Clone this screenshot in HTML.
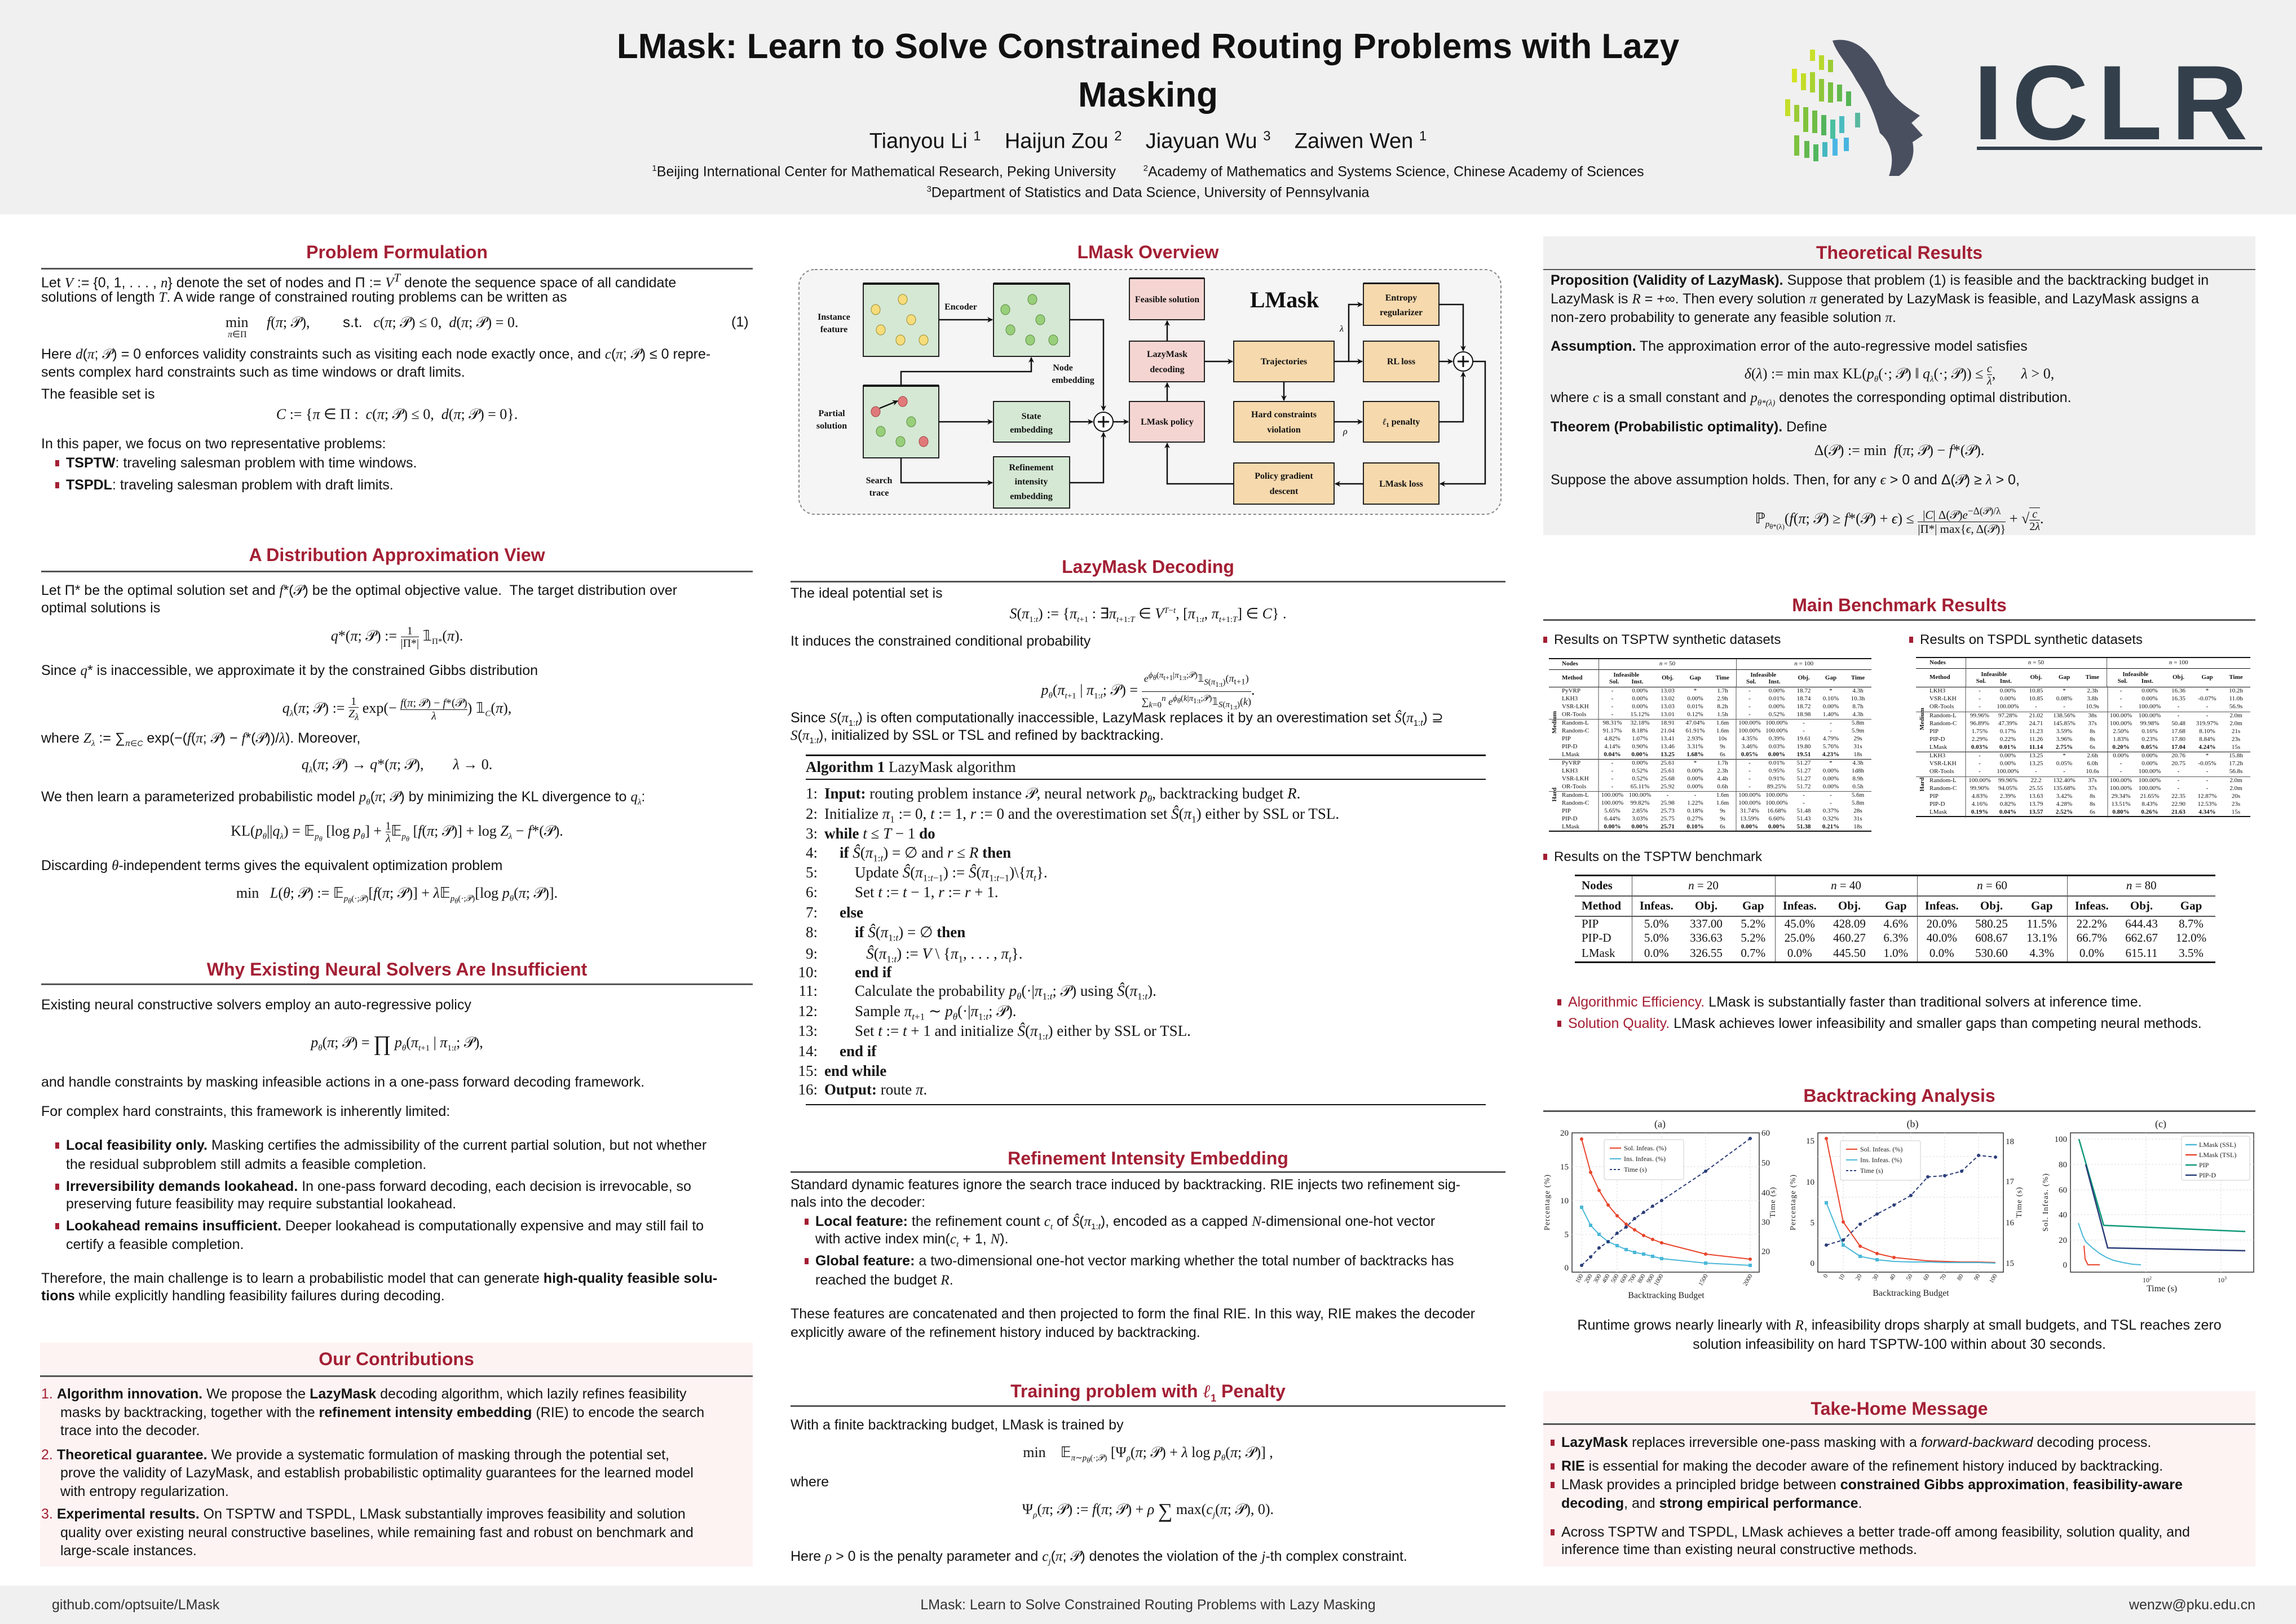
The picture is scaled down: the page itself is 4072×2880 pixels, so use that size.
<!DOCTYPE html>
<html><head><meta charset="utf-8"><style>
*{margin:0;padding:0;box-sizing:border-box}
body{width:4072px;height:2880px;position:relative;overflow:hidden;background:#fff;font-family:"Liberation Sans",sans-serif;color:#141414}
.a{position:absolute}
.t{position:absolute;white-space:nowrap;font-size:25px;line-height:32px}
.m{font-family:"Liberation Serif",serif;font-style:italic}
.r{font-family:"Liberation Serif",serif}
.h{position:absolute;text-align:center;font-size:32px;font-weight:bold;color:#a31f34;line-height:40px;white-space:nowrap}
.rule{position:absolute;height:3px;background:#555}
.sq{display:inline-block;width:7px;height:11px;background:#a31f34;margin-right:12px;vertical-align:2px}
.f{position:absolute;white-space:nowrap;font-family:"Liberation Serif",serif;font-size:26px;line-height:32px;text-align:center}
.alg{position:absolute;white-space:nowrap;font-family:"Liberation Serif",serif;font-size:27px;line-height:30px}
.alg b{font-weight:bold}
.ln{display:inline-block;width:50px;text-align:right;margin-right:12px}
table.d{position:absolute;border-collapse:collapse;table-layout:fixed;font-family:"Liberation Serif",serif;font-size:11px;color:#111}
table.d td{text-align:center;padding:0;white-space:nowrap;overflow:visible;line-height:11px}
table.d td.l{text-align:left}
table.b{position:absolute;border-collapse:collapse;table-layout:fixed;font-family:"Liberation Serif",serif;font-size:21px;color:#111}
table.b td{text-align:center;padding:0;white-space:nowrap}
</style></head><body>

<!-- header -->
<div class="a" style="left:0;top:0;width:4072px;height:380px;background:#f0f0f0"></div>
<div class="a" style="left:0;top:2812px;width:4072px;height:68px;background:#f0f0f0"></div>
<div class="a" style="left:700px;top:40px;width:2672px;text-align:center;font-size:62px;font-weight:bold;line-height:86px;color:#111">LMask: Learn to Solve Constrained Routing Problems with Lazy<br>Masking</div>
<div class="a" style="left:700px;top:218px;width:2672px;text-align:center;font-size:38px;line-height:48px">Tianyou Li <sup style="font-size:24px">1</sup>&nbsp;&nbsp;&nbsp; Haijun Zou <sup style="font-size:24px">2</sup>&nbsp;&nbsp;&nbsp; Jiayuan Wu <sup style="font-size:24px">3</sup>&nbsp;&nbsp;&nbsp; Zaiwen Wen <sup style="font-size:24px">1</sup></div>
<div class="a" style="left:700px;top:283px;width:2672px;text-align:center;font-size:25px;line-height:32px"><sup style="font-size:15px">1</sup>Beijing International Center for Mathematical Research, Peking University&nbsp;&nbsp;&nbsp;&nbsp;&nbsp;&nbsp; <sup style="font-size:15px">2</sup>Academy of Mathematics and Systems Science, Chinese Academy of Sciences<br><sup style="font-size:15px">3</sup>Department of Statistics and Data Science, University of Pennsylvania</div>
<div class="a" style="left:3500px;top:92px;font-size:188px;font-weight:bold;color:#333f4b;letter-spacing:16px;line-height:180px">ICLR</div>
<div class="a" style="left:3506px;top:260px;width:506px;height:6px;background:#333f4b"></div>

<!-- backgrounds -->
<div class="a" style="left:2737px;top:419px;width:1263px;height:530px;background:#f0f0f0"></div>
<div class="a" style="left:71px;top:2381px;width:1264px;height:397px;background:#fdf3f2"></div>
<div class="a" style="left:2737px;top:2467px;width:1263px;height:311px;background:#fdf3f2"></div>

<!-- COLUMN 1 -->
<div class="h" style="left:73px;top:427px;width:1262px">Problem Formulation</div>
<div class="rule" style="left:73px;top:475px;width:1262px"></div>
<div class="t" style="left:73px;top:477px">Let <span class="m">V</span> := {0, 1, . . . , <span class="m">n</span>} denote the set of nodes and Π := <span class="m">V<sup>T</sup></span> denote the sequence space of all candidate</div>
<div class="t" style="left:73px;top:511px">solutions of length <span class="m">T</span>. A wide range of constrained routing problems can be written as</div>
<div class="f" style="left:400px;top:555px;text-align:left">min&nbsp;&nbsp;&nbsp;&nbsp; <i>f</i>(<i>π</i>; 𝒫),&nbsp;&nbsp;&nbsp;&nbsp;&nbsp;&nbsp;&nbsp;&nbsp; <span style="font-family:'Liberation Sans'">s.t.</span>&nbsp;&nbsp; <i>c</i>(<i>π</i>; 𝒫) ≤ 0,&nbsp; <i>d</i>(<i>π</i>; 𝒫) = 0.</div>
<div class="f" style="left:404px;top:578px;font-size:16px"><i>π</i>∈Π</div>
<div class="t" style="left:1297px;top:555px">(1)</div>
<div class="t" style="left:73px;top:612px">Here <span class="m">d</span>(<span class="m">π</span>; 𝒫) = 0 enforces validity constraints such as visiting each node exactly once, and <span class="m">c</span>(<span class="m">π</span>; 𝒫) ≤ 0 repre-</div>
<div class="t" style="left:73px;top:644px">sents complex hard constraints such as time windows or draft limits.</div>
<div class="t" style="left:73px;top:683px">The feasible set is</div>
<div class="f" style="left:73px;width:1262px;top:719px"><i>C</i> := {<i>π</i> ∈ Π :&nbsp; <i>c</i>(<i>π</i>; 𝒫) ≤ 0,&nbsp; <i>d</i>(<i>π</i>; 𝒫) = 0}.</div>
<div class="t" style="left:73px;top:771px">In this paper, we focus on two representative problems:</div>
<div class="t" style="left:98px;top:805px"><span class="sq"></span><b>TSPTW</b>: traveling salesman problem with time windows.</div>
<div class="t" style="left:98px;top:844px"><span class="sq"></span><b>TSPDL</b>: traveling salesman problem with draft limits.</div>

<div class="h" style="left:73px;top:964px;width:1262px">A Distribution Approximation View</div>
<div class="rule" style="left:73px;top:1012px;width:1262px"></div>
<div class="t" style="left:73px;top:1031px">Let Π* be the optimal solution set and <span class="m">f</span>*(𝒫) be the optimal objective value.&nbsp; The target distribution over</div>
<div class="t" style="left:73px;top:1062px">optimal solutions is</div>
<div class="f" style="left:73px;width:1262px;top:1108px"><i>q</i>*(<i>π</i>; 𝒫) := <span style="display:inline-block;vertical-align:middle;text-align:center;font-size:20px;line-height:22px">1<br><span style="border-top:1.5px solid #111">|Π*|</span></span> 𝟙<sub style="font-size:15px">Π*</sub>(<i>π</i>).</div>
<div class="t" style="left:73px;top:1173px">Since <span class="m">q</span>* is inaccessible, we approximate it by the constrained Gibbs distribution</div>
<div class="f" style="left:73px;width:1262px;top:1233px"><i>q<sub style="font-size:15px">λ</sub></i>(<i>π</i>; 𝒫) := <span style="display:inline-block;vertical-align:middle;font-size:20px;line-height:22px">1<br><span style="border-top:1.5px solid #111"><i>Z<sub>λ</sub></i></span></span> exp(− <span style="display:inline-block;vertical-align:middle;font-size:20px;line-height:22px"><i>f</i>(<i>π</i>; 𝒫) − <i>f</i>*(𝒫)<br><span style="border-top:1.5px solid #111;display:block"><i>λ</i></span></span>) 𝟙<sub style="font-size:15px"><i>C</i></sub>(<i>π</i>),</div>
<div class="t" style="left:73px;top:1293px">where <span class="m">Z<sub style="font-size:15px">λ</sub></span> := ∑<sub style="font-size:14px"><i>π</i>∈<i>C</i></sub> exp(−(<span class="m">f</span>(<span class="m">π</span>; 𝒫) − <span class="m">f</span>*(𝒫))/<span class="m">λ</span>). Moreover,</div>
<div class="f" style="left:73px;width:1262px;top:1340px"><i>q<sub style="font-size:15px">λ</sub></i>(<i>π</i>; 𝒫) → <i>q</i>*(<i>π</i>; 𝒫),&nbsp;&nbsp;&nbsp;&nbsp;&nbsp;&nbsp;&nbsp; <i>λ</i> → 0.</div>
<div class="t" style="left:73px;top:1397px">We then learn a parameterized probabilistic model <span class="m">p<sub style="font-size:15px">θ</sub></span>(<span class="m">π</span>; 𝒫) by minimizing the KL divergence to <span class="m">q<sub style="font-size:15px">λ</sub></span>:</div>
<div class="f" style="left:73px;width:1262px;top:1454px">KL(<i>p<sub style="font-size:15px">θ</sub></i>||<i>q<sub style="font-size:15px">λ</sub></i>) = 𝔼<sub style="font-size:15px"><i>p<sub>θ</sub></i></sub> [log <i>p<sub style="font-size:15px">θ</sub></i>] + <span style="display:inline-block;vertical-align:middle;font-size:20px;line-height:22px">1<br><span style="border-top:1.5px solid #111"><i>λ</i></span></span>𝔼<sub style="font-size:15px"><i>p<sub>θ</sub></i></sub> [<i>f</i>(<i>π</i>; 𝒫)] + log <i>Z<sub style="font-size:15px">λ</sub></i> − <i>f</i>*(𝒫).</div>
<div class="t" style="left:73px;top:1519px">Discarding <span class="m">θ</span>-independent terms gives the equivalent optimization problem</div>
<div class="f" style="left:73px;width:1262px;top:1568px">min&nbsp;&nbsp; <i>L</i>(<i>θ</i>; 𝒫) := 𝔼<sub style="font-size:15px"><i>p<sub>θ</sub></i>(·;𝒫)</sub>[<i>f</i>(<i>π</i>; 𝒫)] + <i>λ</i>𝔼<sub style="font-size:15px"><i>p<sub>θ</sub></i>(·;𝒫)</sub>[log <i>p<sub style="font-size:15px">θ</sub></i>(<i>π</i>; 𝒫)].</div>

<div class="h" style="left:73px;top:1699px;width:1262px">Why Existing Neural Solvers Are Insufficient</div>
<div class="rule" style="left:73px;top:1744px;width:1262px"></div>
<div class="t" style="left:73px;top:1766px">Existing neural constructive solvers employ an auto-regressive policy</div>
<div class="f" style="left:73px;width:1262px;top:1833px"><i>p<sub style="font-size:15px">θ</sub></i>(<i>π</i>; 𝒫) = <span style="font-size:38px;vertical-align:-6px">∏</span> <i>p<sub style="font-size:15px">θ</sub></i>(<i>π</i><sub style="font-size:15px"><i>t</i>+1</sub> | <i>π</i><sub style="font-size:15px">1:<i>t</i></sub>; 𝒫),</div>
<div class="t" style="left:73px;top:1903px">and handle constraints by masking infeasible actions in a one-pass forward decoding framework.</div>
<div class="t" style="left:73px;top:1955px">For complex hard constraints, this framework is inherently limited:</div>
<div class="t" style="left:98px;top:2015px"><span class="sq"></span><b>Local feasibility only.</b> Masking certifies the admissibility of the current partial solution, but not whether</div>
<div class="t" style="left:117px;top:2049px">the residual subproblem still admits a feasible completion.</div>
<div class="t" style="left:98px;top:2088px"><span class="sq"></span><b>Irreversibility demands lookahead.</b> In one-pass forward decoding, each decision is irrevocable, so</div>
<div class="t" style="left:117px;top:2119px">preserving future feasibility may require substantial lookahead.</div>
<div class="t" style="left:98px;top:2158px"><span class="sq"></span><b>Lookahead remains insufficient.</b> Deeper lookahead is computationally expensive and may still fail to</div>
<div class="t" style="left:117px;top:2191px">certify a feasible completion.</div>
<div class="t" style="left:73px;top:2251px">Therefore, the main challenge is to learn a probabilistic model that can generate <b>high-quality feasible solu-</b></div>
<div class="t" style="left:73px;top:2282px"><b>tions</b> while explicitly handling feasibility failures during decoding.</div>

<div class="h" style="left:71px;top:2390px;width:1264px">Our Contributions</div>
<div class="rule" style="left:71px;top:2439px;width:1264px"></div>
<div class="t" style="left:73px;top:2456px"><span style="color:#a31f34">1.</span> <b>Algorithm innovation.</b> We propose the <b>LazyMask</b> decoding algorithm, which lazily refines feasibility</div>
<div class="t" style="left:107px;top:2489px">masks by backtracking, together with the <b>refinement intensity embedding</b> (RIE) to encode the search</div>
<div class="t" style="left:107px;top:2521px">trace into the decoder.</div>
<div class="t" style="left:73px;top:2564px"><span style="color:#a31f34">2.</span> <b>Theoretical guarantee.</b> We provide a systematic formulation of masking through the potential set,</div>
<div class="t" style="left:107px;top:2596px">prove the validity of LazyMask, and establish probabilistic optimality guarantees for the learned model</div>
<div class="t" style="left:107px;top:2629px">with entropy regularization.</div>
<div class="t" style="left:73px;top:2669px"><span style="color:#a31f34">3.</span> <b>Experimental results.</b> On TSPTW and TSPDL, LMask substantially improves feasibility and solution</div>
<div class="t" style="left:107px;top:2702px">quality over existing neural constructive baselines, while remaining fast and robust on benchmark and</div>
<div class="t" style="left:107px;top:2734px">large-scale instances.</div>

<!-- COLUMN 2 -->
<div class="h" style="left:1402px;top:427px;width:1268px">LMask Overview</div>
<div class="h" style="left:1402px;top:985px;width:1268px">LazyMask Decoding</div>
<div class="rule" style="left:1402px;top:1030px;width:1268px"></div>
<div class="t" style="left:1402px;top:1036px">The ideal potential set is</div>
<div class="f" style="left:1402px;width:1268px;top:1067px"><i>S</i>(<i>π</i><sub style="font-size:15px">1:<i>t</i></sub>) := {<i>π</i><sub style="font-size:15px"><i>t</i>+1</sub> : ∃<i>π</i><sub style="font-size:15px"><i>t</i>+1:<i>T</i></sub> ∈ <i>V</i><sup style="font-size:15px"><i>T</i>−<i>t</i></sup>, [<i>π</i><sub style="font-size:15px">1:<i>t</i></sub>, <i>π</i><sub style="font-size:15px"><i>t</i>+1:<i>T</i></sub>] ∈ <i>C</i>} .</div>
<div class="t" style="left:1402px;top:1121px">It induces the constrained conditional probability</div>
<div class="f" style="left:1402px;width:1268px;top:1186px"><i>p<sub style="font-size:15px">θ</sub></i>(<i>π</i><sub style="font-size:15px"><i>t</i>+1</sub> | <i>π</i><sub style="font-size:15px">1:<i>t</i></sub>; 𝒫) = <span style="display:inline-block;vertical-align:middle;font-size:18px;line-height:24px;text-align:center"><i>e</i><sup><i>ϕ<sub>θ</sub></i>(<i>π</i><sub>t+1</sub>|<i>π</i><sub>1:t</sub>;𝒫)</sup>𝟙<sub><i>S</i>(<i>π</i><sub>1:t</sub>)</sub>(<i>π</i><sub>t+1</sub>)<br><span style="border-top:1.5px solid #111;display:block">∑<sub><i>k</i>=0</sub><sup><i>n</i></sup> <i>e</i><sup><i>ϕ<sub>θ</sub></i>(<i>k</i>|<i>π</i><sub>1:t</sub>;𝒫)</sup>𝟙<sub><i>S</i>(<i>π</i><sub>1:t</sub>)</sub>(<i>k</i>)</span></span>.</div>
<div class="t" style="left:1402px;top:1257px">Since <span class="m">S</span>(<span class="m">π</span><sub style="font-size:15px">1:<i>t</i></sub>) is often computationally inaccessible, LazyMask replaces it by an overestimation set <span class="m">Ŝ</span>(<span class="m">π</span><sub style="font-size:15px">1:<i>t</i></sub>) ⊇</div>
<div class="t" style="left:1402px;top:1288px"><span class="m">S</span>(<span class="m">π</span><sub style="font-size:15px">1:<i>t</i></sub>), initialized by SSL or TSL and refined by backtracking.</div>

<div class="a" style="left:1429px;top:1338px;width:1206px;height:3px;background:#111"></div>
<div class="alg" style="left:1429px;top:1345px"><b>Algorithm 1</b> LazyMask algorithm</div>
<div class="a" style="left:1429px;top:1381px;width:1206px;height:2px;background:#111"></div>
<div class="alg" style="left:1400px;top:1392px"><span class="ln">1:</span><b>Input:</b> routing problem instance 𝒫, neural network <i>p<sub style="font-size:17px">θ</sub></i>, backtracking budget <i>R</i>.</div>
<div class="alg" style="left:1400px;top:1428px"><span class="ln">2:</span>Initialize <i>π</i><sub style="font-size:17px">1</sub> := 0, <i>t</i> := 1, <i>r</i> := 0 and the overestimation set <i>Ŝ</i>(<i>π</i><sub style="font-size:17px">1</sub>) either by SSL or TSL.</div>
<div class="alg" style="left:1400px;top:1463px"><span class="ln">3:</span><b>while</b> <i>t</i> ≤ <i>T</i> − 1 <b>do</b></div>
<div class="alg" style="left:1400px;top:1497px"><span class="ln">4:</span>&nbsp;&nbsp;&nbsp; <b>if</b> <i>Ŝ</i>(<i>π</i><sub style="font-size:17px">1:<i>t</i></sub>) = ∅ and <i>r</i> ≤ <i>R</i> <b>then</b></div>
<div class="alg" style="left:1400px;top:1532px"><span class="ln">5:</span>&nbsp;&nbsp;&nbsp;&nbsp;&nbsp;&nbsp;&nbsp; Update <i>Ŝ</i>(<i>π</i><sub style="font-size:17px">1:<i>t</i>−1</sub>) := <i>Ŝ</i>(<i>π</i><sub style="font-size:17px">1:<i>t</i>−1</sub>)\{<i>π<sub style="font-size:17px">t</sub></i>}.</div>
<div class="alg" style="left:1400px;top:1567px"><span class="ln">6:</span>&nbsp;&nbsp;&nbsp;&nbsp;&nbsp;&nbsp;&nbsp; Set <i>t</i> := <i>t</i> − 1, <i>r</i> := <i>r</i> + 1.</div>
<div class="alg" style="left:1400px;top:1603px"><span class="ln">7:</span>&nbsp;&nbsp;&nbsp; <b>else</b></div>
<div class="alg" style="left:1400px;top:1638px"><span class="ln">8:</span>&nbsp;&nbsp;&nbsp;&nbsp;&nbsp;&nbsp;&nbsp; <b>if</b> <i>Ŝ</i>(<i>π</i><sub style="font-size:17px">1:<i>t</i></sub>) = ∅ <b>then</b></div>
<div class="alg" style="left:1400px;top:1676px"><span class="ln">9:</span>&nbsp;&nbsp;&nbsp;&nbsp;&nbsp;&nbsp;&nbsp;&nbsp;&nbsp;&nbsp; <i>Ŝ</i>(<i>π</i><sub style="font-size:17px">1:<i>t</i></sub>) := <i>V</i> \ {<i>π</i><sub style="font-size:17px">1</sub>, . . . , <i>π<sub style="font-size:17px">t</sub></i>}.</div>
<div class="alg" style="left:1400px;top:1709px"><span class="ln">10:</span>&nbsp;&nbsp;&nbsp;&nbsp;&nbsp;&nbsp;&nbsp; <b>end if</b></div>
<div class="alg" style="left:1400px;top:1742px"><span class="ln">11:</span>&nbsp;&nbsp;&nbsp;&nbsp;&nbsp;&nbsp;&nbsp; Calculate the probability <i>p<sub style="font-size:17px">θ</sub></i>(·|<i>π</i><sub style="font-size:17px">1:<i>t</i></sub>; 𝒫) using <i>Ŝ</i>(<i>π</i><sub style="font-size:17px">1:<i>t</i></sub>).</div>
<div class="alg" style="left:1400px;top:1778px"><span class="ln">12:</span>&nbsp;&nbsp;&nbsp;&nbsp;&nbsp;&nbsp;&nbsp; Sample <i>π</i><sub style="font-size:17px"><i>t</i>+1</sub> ∼ <i>p<sub style="font-size:17px">θ</sub></i>(·|<i>π</i><sub style="font-size:17px">1:<i>t</i></sub>; 𝒫).</div>
<div class="alg" style="left:1400px;top:1813px"><span class="ln">13:</span>&nbsp;&nbsp;&nbsp;&nbsp;&nbsp;&nbsp;&nbsp; Set <i>t</i> := <i>t</i> + 1 and initialize <i>Ŝ</i>(<i>π</i><sub style="font-size:17px">1:<i>t</i></sub>) either by SSL or TSL.</div>
<div class="alg" style="left:1400px;top:1849px"><span class="ln">14:</span>&nbsp;&nbsp;&nbsp; <b>end if</b></div>
<div class="alg" style="left:1400px;top:1884px"><span class="ln">15:</span><b>end while</b></div>
<div class="alg" style="left:1400px;top:1917px"><span class="ln">16:</span><b>Output:</b> route <i>π</i>.</div>
<div class="a" style="left:1429px;top:1958px;width:1206px;height:2px;background:#111"></div>

<div class="h" style="left:1402px;top:2034px;width:1268px">Refinement Intensity Embedding</div>
<div class="rule" style="left:1402px;top:2077px;width:1268px"></div>
<div class="t" style="left:1402px;top:2085px">Standard dynamic features ignore the search trace induced by backtracking. RIE injects two refinement sig-</div>
<div class="t" style="left:1402px;top:2116px">nals into the decoder:</div>
<div class="t" style="left:1427px;top:2150px"><span class="sq"></span><b>Local feature:</b> the refinement count <span class="m">c<sub style="font-size:15px">t</sub></span> of <span class="m">Ŝ</span>(<span class="m">π</span><sub style="font-size:15px">1:<i>t</i></sub>), encoded as a capped <span class="m">N</span>-dimensional one-hot vector</div>
<div class="t" style="left:1446px;top:2181px">with active index min(<span class="m">c<sub style="font-size:15px">t</sub></span> + 1, <span class="m">N</span>).</div>
<div class="t" style="left:1427px;top:2220px"><span class="sq"></span><b>Global feature:</b> a two-dimensional one-hot vector marking whether the total number of backtracks has</div>
<div class="t" style="left:1446px;top:2254px">reached the budget <span class="m">R</span>.</div>
<div class="t" style="left:1402px;top:2314px">These features are concatenated and then projected to form the final RIE. In this way, RIE makes the decoder</div>
<div class="t" style="left:1402px;top:2347px">explicitly aware of the refinement history induced by backtracking.</div>

<div class="h" style="left:1402px;top:2447px;width:1268px">Training problem with <i style="font-family:'Liberation Serif'">ℓ</i><sub style="font-size:18px">1</sub> Penalty</div>
<div class="rule" style="left:1402px;top:2492px;width:1268px"></div>
<div class="t" style="left:1402px;top:2511px">With a finite backtracking budget, LMask is trained by</div>
<div class="f" style="left:1402px;width:1268px;top:2560px">min&nbsp;&nbsp;&nbsp; 𝔼<sub style="font-size:15px"><i>π</i>∼<i>p<sub>θ</sub></i>(·;𝒫)</sub> [Ψ<sub style="font-size:15px"><i>ρ</i></sub>(<i>π</i>; 𝒫) + <i>λ</i> log <i>p<sub style="font-size:15px">θ</sub></i>(<i>π</i>; 𝒫)] ,</div>
<div class="t" style="left:1402px;top:2612px">where</div>
<div class="f" style="left:1402px;width:1268px;top:2661px">Ψ<sub style="font-size:15px"><i>ρ</i></sub>(<i>π</i>; 𝒫) := <i>f</i>(<i>π</i>; 𝒫) + <i>ρ</i> <span style="font-size:36px;vertical-align:-6px">∑</span> max(<i>c<sub style="font-size:15px">j</sub></i>(<i>π</i>; 𝒫), 0).</div>
<div class="t" style="left:1402px;top:2744px">Here <span class="m">ρ</span> &gt; 0 is the penalty parameter and <span class="m">c<sub style="font-size:15px">j</sub></span>(<span class="m">π</span>; 𝒫) denotes the violation of the <span class="m">j</span>-th complex constraint.</div>

<!-- COLUMN 3 -->
<div class="h" style="left:2737px;top:428px;width:1263px">Theoretical Results</div>
<div class="rule" style="left:2737px;top:477px;width:1263px;height:2px"></div>
<div class="t" style="left:2750px;top:481px"><b>Proposition (Validity of LazyMask).</b> Suppose that problem (1) is feasible and the backtracking budget in</div>
<div class="t" style="left:2750px;top:514px">LazyMask is <span class="m">R</span> = +∞. Then every solution <span class="m">π</span> generated by LazyMask is feasible, and LazyMask assigns a</div>
<div class="t" style="left:2750px;top:547px">non-zero probability to generate any feasible solution <span class="m">π</span>.</div>
<div class="t" style="left:2750px;top:598px"><b>Assumption.</b> The approximation error of the auto-regressive model satisfies</div>
<div class="f" style="left:2737px;width:1263px;top:643px"><i>δ</i>(<i>λ</i>) := min max KL(<i>p<sub style="font-size:15px">θ</sub></i>(·; 𝒫) ‖ <i>q<sub style="font-size:15px">λ</sub></i>(·; 𝒫)) ≤ <span style="display:inline-block;vertical-align:middle;font-size:20px;line-height:22px"><i>c</i><br><span style="border-top:1.5px solid #111"><i>λ</i></span></span>,&nbsp;&nbsp;&nbsp;&nbsp;&nbsp;&nbsp; <i>λ</i> &gt; 0,</div>
<div class="t" style="left:2750px;top:689px">where <span class="m">c</span> is a small constant and <span class="m">p<sub style="font-size:15px">θ*(λ)</sub></span> denotes the corresponding optimal distribution.</div>
<div class="t" style="left:2750px;top:741px"><b>Theorem (Probabilistic optimality).</b> Define</div>
<div class="f" style="left:2737px;width:1263px;top:783px">Δ(𝒫) := min&nbsp; <i>f</i>(<i>π</i>; 𝒫) − <i>f</i>*(𝒫).</div>
<div class="t" style="left:2750px;top:835px">Suppose the above assumption holds. Then, for any <span class="m">ϵ</span> &gt; 0 and Δ(𝒫) ≥ <span class="m">λ</span> &gt; 0,</div>
<div class="f" style="left:2737px;width:1263px;top:894px">ℙ<sub style="font-size:15px"><i>p</i><sub>θ*(λ)</sub></sub>(<i>f</i>(<i>π</i>; 𝒫) ≥ <i>f</i>*(𝒫) + <i>ϵ</i>) ≤ <span style="display:inline-block;vertical-align:middle;font-size:21px;line-height:24px">|<i>C</i>| Δ(𝒫)<i>e</i><sup>−Δ(𝒫)/λ</sup><br><span style="border-top:1.5px solid #111;display:block">|Π*| max{<i>ϵ</i>, Δ(𝒫)}</span></span> + √<span style="border-top:1.5px solid #111;display:inline-block;vertical-align:middle;font-size:20px;line-height:22px"><i>c</i><br><span style="border-top:1.5px solid #111">2<i>λ</i></span></span>.</div>

<div class="h" style="left:2737px;top:1053px;width:1263px">Main Benchmark Results</div>
<div class="rule" style="left:2737px;top:1098px;width:1263px"></div>
<div class="t" style="left:2737px;top:1119px;font-size:24px"><span class="sq"></span>Results on TSPTW synthetic datasets</div>
<div class="t" style="left:3386px;top:1119px;font-size:24px"><span class="sq"></span>Results on TSPDL synthetic datasets</div>

<!-- TSPTW synthetic table -->
<table class="d" style="left:2747px;top:1167px;width:570px">
<colgroup><col style="width:23px"><col style="width:65px"><col style="width:49px"><col style="width:49px"><col style="width:49px"><col style="width:49px"><col style="width:48px"><col style="width:48px"><col style="width:48px"><col style="width:48px"><col style="width:48px"><col style="width:48px"></colgroup>
<tr style="height:19px;border-top:2px solid #111;border-bottom:1.5px solid #111"><td></td><td class="l" style="font-weight:bold;border-right:1px solid #555">Nodes</td><td colspan="5" style="border-right:1px solid #555"><i>n</i> = 50</td><td colspan="5"><i>n</i> = 100</td></tr>
<tr style="height:31px;border-bottom:1.5px solid #111;font-weight:bold"><td></td><td class="l" style="border-right:1px solid #555">Method</td><td colspan="2" style="line-height:12px">Infeasible<br>Sol.&nbsp;&nbsp;&nbsp;&nbsp;&nbsp;&nbsp;&nbsp; Inst.</td><td>Obj.</td><td>Gap</td><td style="border-right:1px solid #555">Time</td><td colspan="2" style="line-height:12px">Infeasible<br>Sol.&nbsp;&nbsp;&nbsp;&nbsp;&nbsp;&nbsp;&nbsp; Inst.</td><td>Obj.</td><td>Gap</td><td>Time</td></tr>
<tr style="height:14px"><td></td><td class="l">PyVRP</td><td>-</td><td>0.00%</td><td>13.03</td><td>*</td><td>1.7h</td><td>-</td><td>0.00%</td><td>18.72</td><td>*</td><td>4.3h</td></tr>
<tr style="height:14px"><td></td><td class="l">LKH3</td><td>-</td><td>0.00%</td><td>13.02</td><td>0.00%</td><td>2.9h</td><td>-</td><td>0.01%</td><td>18.74</td><td>0.16%</td><td>10.3h</td></tr>
<tr style="height:14px"><td></td><td class="l">VSR-LKH</td><td>-</td><td>0.00%</td><td>13.03</td><td>0.01%</td><td>8.2h</td><td>-</td><td>0.00%</td><td>18.72</td><td>0.00%</td><td>8.7h</td></tr>
<tr style="height:15px;border-bottom:1px solid #555"><td></td><td class="l">OR-Tools</td><td>-</td><td>15.12%</td><td>13.01</td><td>0.12%</td><td>1.5h</td><td>-</td><td>0.52%</td><td>18.98</td><td>1.40%</td><td>4.3h</td></tr>
<tr style="height:14px"><td></td><td class="l">Random-L</td><td>98.31%</td><td>32.18%</td><td>18.91</td><td>47.04%</td><td>1.6m</td><td>100.00%</td><td>100.00%</td><td>-</td><td>-</td><td>5.8m</td></tr>
<tr style="height:14px"><td></td><td class="l">Random-C</td><td>91.17%</td><td>8.18%</td><td>21.04</td><td>61.91%</td><td>1.6m</td><td>100.00%</td><td>100.00%</td><td>-</td><td>-</td><td>5.9m</td></tr>
<tr style="height:14px"><td></td><td class="l">PIP</td><td>4.82%</td><td>1.07%</td><td>13.41</td><td>2.93%</td><td>10s</td><td>4.35%</td><td>0.39%</td><td>19.61</td><td>4.79%</td><td>29s</td></tr>
<tr style="height:14px"><td></td><td class="l">PIP-D</td><td>4.14%</td><td>0.90%</td><td>13.46</td><td>3.31%</td><td>9s</td><td>3.46%</td><td>0.03%</td><td>19.80</td><td>5.76%</td><td>31s</td></tr>
<tr style="height:15px;border-bottom:1.5px solid #111;font-weight:bold"><td></td><td class="l" style="font-weight:normal">LMask</td><td>0.04%</td><td>0.00%</td><td>13.25</td><td>1.68%</td><td style="font-weight:normal">6s</td><td>0.05%</td><td>0.00%</td><td>19.51</td><td>4.23%</td><td style="font-weight:normal">18s</td></tr>
<tr style="height:14px"><td></td><td class="l">PyVRP</td><td>-</td><td>0.00%</td><td>25.61</td><td>*</td><td>1.7h</td><td>-</td><td>0.01%</td><td>51.27</td><td>*</td><td>4.3h</td></tr>
<tr style="height:14px"><td></td><td class="l">LKH3</td><td>-</td><td>0.52%</td><td>25.61</td><td>0.00%</td><td>2.3h</td><td>-</td><td>0.95%</td><td>51.27</td><td>0.00%</td><td>1d8h</td></tr>
<tr style="height:14px"><td></td><td class="l">VSR-LKH</td><td>-</td><td>0.52%</td><td>25.68</td><td>0.00%</td><td>4.4h</td><td>-</td><td>0.91%</td><td>51.27</td><td>0.00%</td><td>8.9h</td></tr>
<tr style="height:15px;border-bottom:1px solid #555"><td></td><td class="l">OR-Tools</td><td>-</td><td>65.11%</td><td>25.92</td><td>0.00%</td><td>0.6h</td><td>-</td><td>89.25%</td><td>51.72</td><td>0.00%</td><td>0.5h</td></tr>
<tr style="height:14px"><td></td><td class="l">Random-L</td><td>100.00%</td><td>100.00%</td><td>-</td><td>-</td><td>1.6m</td><td>100.00%</td><td>100.00%</td><td>-</td><td>-</td><td>5.6m</td></tr>
<tr style="height:14px"><td></td><td class="l">Random-C</td><td>100.00%</td><td>99.82%</td><td>25.98</td><td>1.22%</td><td>1.6m</td><td>100.00%</td><td>100.00%</td><td>-</td><td>-</td><td>5.8m</td></tr>
<tr style="height:14px"><td></td><td class="l">PIP</td><td>5.65%</td><td>2.85%</td><td>25.73</td><td>0.18%</td><td>9s</td><td>31.74%</td><td>16.68%</td><td>51.48</td><td>0.37%</td><td>28s</td></tr>
<tr style="height:14px"><td></td><td class="l">PIP-D</td><td>6.44%</td><td>3.03%</td><td>25.75</td><td>0.27%</td><td>9s</td><td>13.59%</td><td>6.60%</td><td>51.43</td><td>0.32%</td><td>31s</td></tr>
<tr style="height:15px;border-bottom:2px solid #111;font-weight:bold"><td></td><td class="l" style="font-weight:normal">LMask</td><td>0.00%</td><td>0.00%</td><td>25.71</td><td>0.10%</td><td style="font-weight:normal">6s</td><td>0.00%</td><td>0.00%</td><td>51.38</td><td>0.21%</td><td style="font-weight:normal">18s</td></tr>
</table>

<!-- TSPDL synthetic table -->
<table class="d" style="left:3398px;top:1165px;width:592px">
<colgroup><col style="width:24px"><col style="width:64px"><col style="width:50px"><col style="width:50px"><col style="width:50px"><col style="width:50px"><col style="width:50px"><col style="width:51px"><col style="width:51px"><col style="width:51px"><col style="width:51px"><col style="width:51px"></colgroup>
<tr style="height:19px;border-top:2px solid #111;border-bottom:1.5px solid #111"><td></td><td class="l" style="font-weight:bold;border-right:1px solid #555">Nodes</td><td colspan="5" style="border-right:1px solid #555"><i>n</i> = 50</td><td colspan="5"><i>n</i> = 100</td></tr>
<tr style="height:33px;border-bottom:1.5px solid #111;font-weight:bold"><td></td><td class="l" style="border-right:1px solid #555">Method</td><td colspan="2" style="line-height:12px">Infeasible<br>Sol.&nbsp;&nbsp;&nbsp;&nbsp;&nbsp;&nbsp;&nbsp;&nbsp; Inst.</td><td>Obj.</td><td>Gap</td><td style="border-right:1px solid #555">Time</td><td colspan="2" style="line-height:12px">Infeasible<br>Sol.&nbsp;&nbsp;&nbsp;&nbsp;&nbsp;&nbsp;&nbsp;&nbsp; Inst.</td><td>Obj.</td><td>Gap</td><td>Time</td></tr>
<tr style="height:14px"><td></td><td class="l">LKH3</td><td>-</td><td>0.00%</td><td>10.85</td><td>*</td><td>2.3h</td><td>-</td><td>0.00%</td><td>16.36</td><td>*</td><td>10.2h</td></tr>
<tr style="height:14px"><td></td><td class="l">VSR-LKH</td><td>-</td><td>0.00%</td><td>10.85</td><td>0.08%</td><td>3.8h</td><td>-</td><td>0.00%</td><td>16.35</td><td>-0.07%</td><td>11.0h</td></tr>
<tr style="height:16px;border-bottom:1px solid #555"><td></td><td class="l">OR-Tools</td><td>-</td><td>100.00%</td><td>-</td><td>-</td><td>10.9s</td><td>-</td><td>100.00%</td><td>-</td><td>-</td><td>56.9s</td></tr>
<tr style="height:14px"><td></td><td class="l">Random-L</td><td>99.96%</td><td>97.28%</td><td>21.02</td><td>138.56%</td><td>38s</td><td>100.00%</td><td>100.00%</td><td>-</td><td>-</td><td>2.0m</td></tr>
<tr style="height:14px"><td></td><td class="l">Random-C</td><td>96.89%</td><td>47.39%</td><td>24.71</td><td>145.85%</td><td>37s</td><td>100.00%</td><td>99.98%</td><td>50.48</td><td>319.97%</td><td>2.0m</td></tr>
<tr style="height:14px"><td></td><td class="l">PIP</td><td>1.75%</td><td>0.17%</td><td>11.23</td><td>3.59%</td><td>8s</td><td>2.50%</td><td>0.16%</td><td>17.68</td><td>8.10%</td><td>21s</td></tr>
<tr style="height:14px"><td></td><td class="l">PIP-D</td><td>2.29%</td><td>0.22%</td><td>11.26</td><td>3.96%</td><td>8s</td><td>1.83%</td><td>0.23%</td><td>17.80</td><td>8.84%</td><td>23s</td></tr>
<tr style="height:15px;border-bottom:1.5px solid #111;font-weight:bold"><td></td><td class="l" style="font-weight:normal">LMask</td><td>0.03%</td><td>0.01%</td><td>11.14</td><td>2.75%</td><td style="font-weight:normal">6s</td><td>0.20%</td><td>0.05%</td><td>17.04</td><td>4.24%</td><td style="font-weight:normal">15s</td></tr>
<tr style="height:14px"><td></td><td class="l">LKH3</td><td>-</td><td>0.00%</td><td>13.25</td><td>*</td><td>2.6h</td><td>0.00%</td><td>0.00%</td><td>20.76</td><td>*</td><td>15.8h</td></tr>
<tr style="height:14px"><td></td><td class="l">VSR-LKH</td><td>-</td><td>0.00%</td><td>13.25</td><td>0.05%</td><td>6.0h</td><td>-</td><td>0.00%</td><td>20.75</td><td>-0.05%</td><td>17.2h</td></tr>
<tr style="height:16px;border-bottom:1px solid #555"><td></td><td class="l">OR-Tools</td><td>-</td><td>100.00%</td><td>-</td><td>-</td><td>10.6s</td><td>-</td><td>100.00%</td><td>-</td><td>-</td><td>56.8s</td></tr>
<tr style="height:14px"><td></td><td class="l">Random-L</td><td>100.00%</td><td>99.96%</td><td>22.2</td><td>132.40%</td><td>37s</td><td>100.00%</td><td>100.00%</td><td>-</td><td>-</td><td>2.0m</td></tr>
<tr style="height:14px"><td></td><td class="l">Random-C</td><td>99.90%</td><td>94.05%</td><td>25.55</td><td>135.68%</td><td>37s</td><td>100.00%</td><td>100.00%</td><td>-</td><td>-</td><td>2.0m</td></tr>
<tr style="height:14px"><td></td><td class="l">PIP</td><td>4.83%</td><td>2.39%</td><td>13.63</td><td>3.42%</td><td>8s</td><td>29.34%</td><td>21.65%</td><td>22.35</td><td>12.87%</td><td>20s</td></tr>
<tr style="height:14px"><td></td><td class="l">PIP-D</td><td>4.16%</td><td>0.82%</td><td>13.79</td><td>4.28%</td><td>8s</td><td>13.51%</td><td>8.43%</td><td>22.90</td><td>12.53%</td><td>23s</td></tr>
<tr style="height:15px;border-bottom:2px solid #111;font-weight:bold"><td></td><td class="l" style="font-weight:normal">LMask</td><td>0.19%</td><td>0.04%</td><td>13.57</td><td>2.52%</td><td style="font-weight:normal">6s</td><td>0.80%</td><td>0.26%</td><td>21.63</td><td>4.34%</td><td style="font-weight:normal">15s</td></tr>
</table>

<div class="t" style="left:2737px;top:1504px;font-size:24px"><span class="sq"></span>Results on the TSPTW benchmark</div>
<table class="b" style="left:2793px;top:1551px;width:1136px">
<colgroup><col style="width:101px"><col style="width:87px"><col style="width:90px"><col style="width:77px"><col style="width:87px"><col style="width:90px"><col style="width:75px"><col style="width:87px"><col style="width:90px"><col style="width:89px"><col style="width:87px"><col style="width:90px"><col style="width:86px"></colgroup>
<tr style="height:36px;border-top:3px solid #111;border-bottom:2px solid #555"><td style="text-align:left;padding-left:12px;font-weight:bold;border-right:1px solid #555">Nodes</td><td colspan="3" style="border-right:1px solid #555"><i>n</i> = 20</td><td colspan="3" style="border-right:1px solid #555"><i>n</i> = 40</td><td colspan="3" style="border-right:1px solid #555"><i>n</i> = 60</td><td colspan="3"><i>n</i> = 80</td></tr>
<tr style="height:36px;border-bottom:2px solid #555;font-weight:bold"><td style="text-align:left;padding-left:12px;border-right:1px solid #555">Method</td><td>Infeas.</td><td>Obj.</td><td style="border-right:1px solid #555">Gap</td><td>Infeas.</td><td>Obj.</td><td style="border-right:1px solid #555">Gap</td><td>Infeas.</td><td>Obj.</td><td style="border-right:1px solid #555">Gap</td><td>Infeas.</td><td>Obj.</td><td>Gap</td></tr>
<tr style="height:26px"><td style="text-align:left;padding-left:12px;border-right:1px solid #555">PIP</td><td>5.0%</td><td>337.00</td><td style="border-right:1px solid #555">5.2%</td><td>45.0%</td><td>428.09</td><td style="border-right:1px solid #555">4.6%</td><td>20.0%</td><td>580.25</td><td style="border-right:1px solid #555">11.5%</td><td>22.2%</td><td>644.43</td><td>8.7%</td></tr>
<tr style="height:25px"><td style="text-align:left;padding-left:12px;border-right:1px solid #555">PIP-D</td><td>5.0%</td><td>336.63</td><td style="border-right:1px solid #555">5.2%</td><td>25.0%</td><td>460.27</td><td style="border-right:1px solid #555">6.3%</td><td>40.0%</td><td>608.67</td><td style="border-right:1px solid #555">13.1%</td><td>66.7%</td><td>662.67</td><td>12.0%</td></tr>
<tr style="height:31px;border-bottom:3px solid #111"><td style="text-align:left;padding-left:12px;border-right:1px solid #555">LMask</td><td>0.0%</td><td>326.55</td><td style="border-right:1px solid #555">0.7%</td><td>0.0%</td><td>445.50</td><td style="border-right:1px solid #555">1.0%</td><td>0.0%</td><td>530.60</td><td style="border-right:1px solid #555">4.3%</td><td>0.0%</td><td>615.11</td><td>3.5%</td></tr>
</table>

<div class="t" style="left:2762px;top:1761px"><span class="sq"></span><span style="color:#a31f34">Algorithmic Efficiency.</span> LMask is substantially faster than traditional solvers at inference time.</div>
<div class="t" style="left:2762px;top:1799px"><span class="sq"></span><span style="color:#a31f34">Solution Quality.</span> LMask achieves lower infeasibility and smaller gaps than competing neural methods.</div>

<div class="h" style="left:2737px;top:1923px;width:1263px">Backtracking Analysis</div>
<div class="rule" style="left:2737px;top:1969px;width:1263px"></div>
<div class="t" style="left:2737px;top:2334px;width:1263px;text-align:center">Runtime grows nearly linearly with <span class="m">R</span>, infeasibility drops sharply at small budgets, and TSL reaches zero</div>
<div class="t" style="left:2737px;top:2368px;width:1263px;text-align:center">solution infeasibility on hard TSPTW-100 within about 30 seconds.</div>

<div class="h" style="left:2737px;top:2478px;width:1263px">Take-Home Message</div>
<div class="rule" style="left:2737px;top:2524px;width:1263px"></div>
<div class="t" style="left:2750px;top:2542px"><span class="sq"></span><b>LazyMask</b> replaces irreversible one-pass masking with a <i>forward-backward</i> decoding process.</div>
<div class="t" style="left:2750px;top:2584px"><span class="sq"></span><b>RIE</b> is essential for making the decoder aware of the refinement history induced by backtracking.</div>
<div class="t" style="left:2750px;top:2617px"><span class="sq"></span>LMask provides a principled bridge between <b>constrained Gibbs approximation</b>, <b>feasibility-aware</b></div>
<div class="t" style="left:2769px;top:2650px"><b>decoding</b>, and <b>strong empirical performance</b>.</div>
<div class="t" style="left:2750px;top:2701px"><span class="sq"></span>Across TSPTW and TSPDL, LMask achieves a better trade-off among feasibility, solution quality, and</div>
<div class="t" style="left:2769px;top:2732px">inference time than existing neural constructive methods.</div>

<!-- footer -->
<div class="t" style="left:92px;top:2830px;color:#333">github.com/optsuite/LMask</div>
<div class="t" style="left:0;width:4072px;top:2830px;text-align:center;color:#333">LMask: Learn to Solve Constrained Routing Problems with Lazy Masking</div>
<div class="t" style="left:3700px;width:300px;top:2830px;text-align:right;color:#333">wenzw@pku.edu.cn</div>

<!-- graphics -->
<svg class="a" style="left:0;top:0" width="4072" height="2880" viewBox="0 0 4072 2880" font-family="Liberation Serif, serif">
<defs>
<marker id="ar" markerWidth="10" markerHeight="10" refX="9" refY="5" orient="auto" markerUnits="userSpaceOnUse"><path d="M0,0 L10,5 L0,10 L3,5 z" fill="#111"/></marker>
</defs>
<!-- ICLR head logo -->
<path d="M3250,72 C3300,62 3330,110 3345,150 C3360,175 3380,190 3405,205 L3390,218 L3410,240 L3392,252 C3398,280 3385,300 3368,312 L3350,312 C3362,280 3352,250 3334,236 C3324,200 3312,172 3292,142 C3276,112 3258,96 3250,72 Z" fill="#4a4f60"/>
<g>
<rect x="3210" y="88" width="9" height="20" fill="#c8e02a"/><rect x="3226" y="98" width="9" height="26" fill="#b8d82c"/><rect x="3242" y="106" width="9" height="22" fill="#9ccc34"/>
<rect x="3178" y="122" width="9" height="24" fill="#d4e324"/><rect x="3194" y="130" width="9" height="30" fill="#c3dc28"/><rect x="3210" y="128" width="9" height="36" fill="#a9d230"/><rect x="3226" y="140" width="9" height="40" fill="#8fc63a"/><rect x="3242" y="146" width="9" height="36" fill="#78c040"/><rect x="3258" y="150" width="9" height="30" fill="#62b94c"/><rect x="3274" y="162" width="9" height="26" fill="#55b454"/>
<rect x="3166" y="176" width="9" height="30" fill="#c5de2a"/><rect x="3182" y="186" width="9" height="30" fill="#9acb36"/><rect x="3198" y="190" width="9" height="44" fill="#80c33d"/><rect x="3214" y="196" width="9" height="40" fill="#6fbd45"/><rect x="3230" y="204" width="9" height="36" fill="#53b45a"/><rect x="3246" y="212" width="9" height="34" fill="#4bbfa0"/><rect x="3262" y="206" width="9" height="30" fill="#4bbbc0"/><rect x="3290" y="200" width="9" height="26" fill="#58b8a0"/>
<rect x="3182" y="240" width="9" height="36" fill="#7cc23f"/><rect x="3200" y="250" width="9" height="30" fill="#62b84e"/><rect x="3216" y="256" width="9" height="30" fill="#52b760"/><rect x="3232" y="252" width="9" height="26" fill="#45b8c0"/><rect x="3250" y="246" width="9" height="30" fill="#4bb7e4"/><rect x="3270" y="244" width="9" height="24" fill="#48b5e0"/>
</g>

<!-- Overview diagram -->
<rect x="1417" y="478" width="1245" height="434" rx="28" fill="#f5f5f5" stroke="#888" stroke-width="2" stroke-dasharray="5,4"/>
<g stroke="#222" stroke-width="2">
<rect x="1531" y="503" width="134" height="129" fill="#d5e8d4"/>
<rect x="1762" y="503" width="135" height="129" fill="#d5e8d4"/>
<rect x="1531" y="684" width="134" height="128" fill="#d5e8d4"/>
<rect x="1762" y="712" width="135" height="72" fill="#d5e8d4"/>
<rect x="1762" y="810" width="135" height="91" fill="#d5e8d4"/>
<rect x="2003" y="494" width="133" height="73" fill="#f5d5d2"/>
<rect x="2003" y="605" width="133" height="72" fill="#f5d5d2"/>
<rect x="2003" y="712" width="133" height="72" fill="#f5d5d2"/>
<rect x="2188" y="605" width="178" height="72" fill="#f6d9ad"/>
<rect x="2188" y="712" width="178" height="72" fill="#f6d9ad"/>
<rect x="2188" y="821" width="178" height="73" fill="#f6d9ad"/>
<rect x="2418" y="503" width="134" height="74" fill="#f6d9ad"/>
<rect x="2418" y="605" width="134" height="72" fill="#f6d9ad"/>
<rect x="2418" y="712" width="134" height="72" fill="#f6d9ad"/>
<rect x="2418" y="821" width="134" height="73" fill="#f6d9ad"/>
</g>
<g fill="#111"><rect x="1531" y="501" width="134" height="4"/><rect x="1762" y="501" width="135" height="4"/><rect x="1531" y="682" width="134" height="4"/><rect x="2003" y="492" width="133" height="3"/><rect x="2418" y="501" width="134" height="3"/></g>
<g stroke="#9a8a30" stroke-width="1" fill="#f6dc7a">
<ellipse cx="1601" cy="531" rx="8" ry="9"/><ellipse cx="1553" cy="549" rx="8" ry="9"/><ellipse cx="1616" cy="567" rx="8" ry="9"/><ellipse cx="1562" cy="585" rx="8" ry="9"/><ellipse cx="1597" cy="603" rx="8" ry="9"/><ellipse cx="1638" cy="603" rx="8" ry="9"/>
</g>
<g stroke="#5a8a40" stroke-width="1" fill="#98cf7a">
<ellipse cx="1831" cy="531" rx="8" ry="9"/><ellipse cx="1783" cy="549" rx="8" ry="9"/><ellipse cx="1845" cy="567" rx="8" ry="9"/><ellipse cx="1792" cy="585" rx="8" ry="9"/><ellipse cx="1827" cy="603" rx="8" ry="9"/><ellipse cx="1868" cy="603" rx="8" ry="9"/>
<ellipse cx="1616" cy="748" rx="8" ry="9"/><ellipse cx="1562" cy="765" rx="8" ry="9"/><ellipse cx="1597" cy="783" rx="8" ry="9"/>
</g>
<g stroke="#a04040" stroke-width="1" fill="#e07a7a">
<ellipse cx="1553" cy="730" rx="8" ry="9"/><ellipse cx="1601" cy="712" rx="8" ry="9"/><ellipse cx="1638" cy="783" rx="8" ry="9"/>
</g>
<g stroke="#111" stroke-width="2.5" fill="none" marker-end="url(#ar)">
<path d="M1560,724 L1592,711"/>
<path d="M1665,567 L1760,567"/>
<path d="M1897,567 L1957,567 L1957,728"/>
<path d="M1598,684 L1598,659 L1829,659 L1829,634"/>
<path d="M1665,748 L1760,748"/>
<path d="M1897,748 L1938,748"/>
<path d="M1598,812 L1598,856 L1760,856"/>
<path d="M1897,856 L1957,856 L1957,767"/>
<path d="M1975,748 L2001,748"/>
<path d="M2070,712 L2070,679"/>
<path d="M2070,605 L2070,569"/>
<path d="M2136,641 L2186,641"/>
<path d="M2366,641 L2416,641"/>
<path d="M2392,641 L2392,540 L2416,540"/>
<path d="M2277,677 L2277,710"/>
<path d="M2366,748 L2416,748"/>
<path d="M2552,540 L2595,540 L2595,622"/>
<path d="M2552,641 L2576,641"/>
<path d="M2552,748 L2595,748 L2595,660"/>
<path d="M2613,641 L2634,641 L2634,858 L2554,858"/>
<path d="M2418,858 L2368,858"/>
<path d="M2188,858 L2070,858 L2070,786"/>
</g>
<g stroke="#111" stroke-width="2" fill="#fff"><circle cx="1957" cy="748" r="17"/><circle cx="2595" cy="641" r="17"/></g>
<g stroke="#111" stroke-width="3"><path d="M1947,748 H1967 M1957,738 V758 M2585,641 H2605 M2595,631 V651"/></g>
<g font-size="16" font-weight="bold" fill="#111" text-anchor="middle">
<text x="1479" y="567">Instance</text><text x="1479" y="589">feature</text>
<text x="1475" y="738">Partial</text><text x="1475" y="760">solution</text>
<text x="1559" y="857">Search</text><text x="1559" y="879">trace</text>
<text x="1704" y="549">Encoder</text>
<text x="1885" y="657">Node</text><text x="1903" y="679">embedding</text>
<text x="1829" y="743">State</text><text x="1829" y="767">embedding</text>
<text x="1829" y="834">Refinement</text><text x="1829" y="859">intensity</text><text x="1829" y="885">embedding</text>
<text x="2070" y="536">Feasible solution</text>
<text x="2070" y="633">LazyMask</text><text x="2070" y="660">decoding</text>
<text x="2070" y="753">LMask policy</text>
<text x="2277" y="646">Trajectories</text>
<text x="2277" y="740">Hard constraints</text><text x="2277" y="767">violation</text>
<text x="2277" y="849">Policy gradient</text><text x="2277" y="876">descent</text>
<text x="2485" y="533">Entropy</text><text x="2485" y="559">regularizer</text>
<text x="2485" y="646">RL loss</text>
<text x="2485" y="753"><tspan font-style="italic" font-weight="normal">ℓ</tspan><tspan font-size="11" dy="4">1</tspan><tspan dy="-4"> penalty</tspan></text>
<text x="2485" y="863">LMask loss</text>
<text x="2278" y="545" font-size="40">LMask</text>
</g>
<text x="2376" y="588" font-size="16" font-style="italic">λ</text>
<text x="2382" y="770" font-size="16" font-style="italic">ρ</text>

<!-- Charts -->
<g font-size="15" fill="#222">
<!-- (a) -->
<text x="2944" y="1999" text-anchor="middle" font-size="18">(a)</text>
<rect x="2788" y="2009" width="332" height="247" fill="none" stroke="#333" stroke-width="1.5"/>
<g stroke="#ddd" stroke-dasharray="3,3"><path d="M2788,2189 H3120 M2788,2129 H3120 M2788,2069 H3120 M2805,2009 V2256 M2868,2009 V2256 M2947,2009 V2256 M3025,2009 V2256 M3104,2009 V2256"/></g>
<g text-anchor="end"><text x="2782" y="2253">0</text><text x="2782" y="2194">5</text><text x="2782" y="2134">10</text><text x="2782" y="2074">15</text><text x="2782" y="2014">20</text></g>
<g><text x="3124" y="2014">60</text><text x="3124" y="2067">50</text><text x="3124" y="2120">40</text><text x="3124" y="2172">30</text><text x="3124" y="2224">20</text></g>
<text transform="translate(2748,2132) rotate(-90)" text-anchor="middle" font-size="14" letter-spacing="1">Percentage (%)</text>
<text transform="translate(3148,2132) rotate(-90)" text-anchor="middle" font-size="14" letter-spacing="1">Time (s)</text>
<g font-size="11" text-anchor="end"><text transform="translate(2808,2262) rotate(-60)">100</text><text transform="translate(2824,2262) rotate(-60)">200</text><text transform="translate(2840,2262) rotate(-60)">300</text><text transform="translate(2855,2262) rotate(-60)">400</text><text transform="translate(2871,2262) rotate(-60)">500</text><text transform="translate(2887,2262) rotate(-60)">600</text><text transform="translate(2902,2262) rotate(-60)">700</text><text transform="translate(2918,2262) rotate(-60)">800</text><text transform="translate(2934,2262) rotate(-60)">900</text><text transform="translate(2950,2262) rotate(-60)">1000</text><text transform="translate(3029,2262) rotate(-60)">1500</text><text transform="translate(3108,2262) rotate(-60)">2000</text></g>
<text x="2955" y="2302" text-anchor="middle" font-size="16">Backtracking Budget</text>
<polyline fill="none" stroke="#e8452c" stroke-width="2" points="2805,2020 2821,2079 2836,2111 2852,2137 2868,2156 2884,2171 2899,2181 2915,2191 2931,2198 2947,2204 3025,2224 3104,2233"/>
<polyline fill="none" stroke="#4ab8d8" stroke-width="2" points="2805,2141 2821,2173 2836,2189 2852,2202 2868,2209 2884,2216 2899,2221 2915,2224 2931,2228 2947,2232 3025,2240 3104,2244"/>
<polyline fill="none" stroke="#2c3e7a" stroke-width="2" stroke-dasharray="6,4" points="2805,2244 2821,2229 2836,2213 2852,2202 2868,2187 2884,2176 2899,2161 2915,2150 2931,2139 2947,2129 3025,2077 3104,2019"/>
<g fill="#e8452c"><circle cx="2805" cy="2020" r="3"/><circle cx="2821" cy="2079" r="3"/><circle cx="2836" cy="2111" r="3"/><circle cx="2852" cy="2137" r="3"/><circle cx="2868" cy="2156" r="3"/><circle cx="2884" cy="2171" r="3"/><circle cx="2899" cy="2181" r="3"/><circle cx="2915" cy="2191" r="3"/><circle cx="2931" cy="2198" r="3"/><circle cx="2947" cy="2204" r="3"/><circle cx="3025" cy="2224" r="3"/><circle cx="3104" cy="2233" r="3"/></g>
<g fill="#4ab8d8"><rect x="2802" y="2138" width="6" height="6"/><rect x="2818" y="2170" width="6" height="6"/><rect x="2833" y="2186" width="6" height="6"/><rect x="2849" y="2199" width="6" height="6"/><rect x="2865" y="2206" width="6" height="6"/><rect x="2881" y="2213" width="6" height="6"/><rect x="2896" y="2218" width="6" height="6"/><rect x="2912" y="2221" width="6" height="6"/><rect x="2928" y="2225" width="6" height="6"/><rect x="2944" y="2229" width="6" height="6"/><rect x="3022" y="2237" width="6" height="6"/><rect x="3101" y="2241" width="6" height="6"/></g>
<g fill="#2c3e7a"><circle cx="2805" cy="2244" r="3"/><circle cx="2821" cy="2229" r="3"/><circle cx="2836" cy="2213" r="3"/><circle cx="2852" cy="2202" r="3"/><circle cx="2868" cy="2187" r="3"/><circle cx="2884" cy="2176" r="3"/><circle cx="2899" cy="2161" r="3"/><circle cx="2915" cy="2150" r="3"/><circle cx="2931" cy="2139" r="3"/><circle cx="2947" cy="2129" r="3"/><circle cx="3025" cy="2077" r="3"/><circle cx="3104" cy="2019" r="3"/></g>
<rect x="2845" y="2021" width="141" height="71" fill="#fff" stroke="#ccc" rx="3"/>
<g font-size="12"><path d="M2855,2036 H2875" stroke="#e8452c" stroke-width="2"/><text x="2880" y="2040">Sol. Infeas. (%)</text><path d="M2855,2055 H2875" stroke="#4ab8d8" stroke-width="2"/><text x="2880" y="2059">Ins. Infeas. (%)</text><path d="M2855,2074 H2875" stroke="#2c3e7a" stroke-width="2" stroke-dasharray="4,3"/><text x="2880" y="2078">Time (s)</text></g>

<!-- (b) -->
<text x="3392" y="1999" text-anchor="middle" font-size="18">(b)</text>
<rect x="3224" y="2009" width="329" height="247" fill="none" stroke="#333" stroke-width="1.5"/>
<g stroke="#ddd" stroke-dasharray="3,3"><path d="M3224,2196 H3553 M3224,2123 H3553 M3224,2051 H3553 M3269,2009 V2256 M3329,2009 V2256 M3389,2009 V2256 M3449,2009 V2256 M3509,2009 V2256"/></g>
<g text-anchor="end"><text x="3218" y="2245">0</text><text x="3218" y="2173">5</text><text x="3218" y="2101">10</text><text x="3218" y="2028">15</text></g>
<g><text x="3557" y="2029">18</text><text x="3557" y="2100">17</text><text x="3557" y="2173">16</text><text x="3557" y="2245">15</text></g>
<text transform="translate(3184,2132) rotate(-90)" text-anchor="middle" font-size="14" letter-spacing="1">Percentage (%)</text>
<text transform="translate(3585,2132) rotate(-90)" text-anchor="middle" font-size="14" letter-spacing="1">Time (s)</text>
<g font-size="11" text-anchor="end"><text transform="translate(3242,2262) rotate(-60)">0</text><text transform="translate(3272,2262) rotate(-60)">10</text><text transform="translate(3302,2262) rotate(-60)">20</text><text transform="translate(3332,2262) rotate(-60)">30</text><text transform="translate(3362,2262) rotate(-60)">40</text><text transform="translate(3392,2262) rotate(-60)">50</text><text transform="translate(3422,2262) rotate(-60)">60</text><text transform="translate(3452,2262) rotate(-60)">70</text><text transform="translate(3482,2262) rotate(-60)">80</text><text transform="translate(3512,2262) rotate(-60)">90</text><text transform="translate(3542,2262) rotate(-60)">100</text></g>
<text x="3389" y="2298" text-anchor="middle" font-size="16">Backtracking Budget</text>
<polyline fill="none" stroke="#e8452c" stroke-width="2" points="3239,2019 3269,2167 3299,2210 3329,2223 3359,2230 3389,2233 3419,2236 3449,2237 3479,2238 3509,2238 3539,2239"/>
<polyline fill="none" stroke="#4ab8d8" stroke-width="2" points="3239,2133 3269,2208 3299,2228 3329,2234 3359,2237 3389,2238 3419,2238 3449,2239 3479,2239 3509,2239 3539,2240"/>
<polyline fill="none" stroke="#2c3e7a" stroke-width="2" stroke-dasharray="6,4" points="3239,2208 3269,2199 3299,2171 3329,2153 3359,2137 3389,2120 3419,2087 3449,2085 3479,2077 3509,2049 3539,2052"/>
<g fill="#2c3e7a"><circle cx="3239" cy="2208" r="3"/><circle cx="3269" cy="2199" r="3"/><circle cx="3299" cy="2171" r="3"/><circle cx="3329" cy="2153" r="3"/><circle cx="3359" cy="2137" r="3"/><circle cx="3389" cy="2120" r="3"/><circle cx="3419" cy="2087" r="3"/><circle cx="3449" cy="2085" r="3"/><circle cx="3479" cy="2077" r="3"/><circle cx="3509" cy="2049" r="3"/><circle cx="3539" cy="2052" r="3"/></g>
<g fill="#e8452c"><circle cx="3239" cy="2019" r="3"/><circle cx="3269" cy="2167" r="3"/><circle cx="3299" cy="2210" r="3"/><circle cx="3329" cy="2223" r="3"/><circle cx="3359" cy="2230" r="3"/></g>
<g fill="#4ab8d8"><rect x="3236" y="2130" width="6" height="6"/><rect x="3266" y="2205" width="6" height="6"/><rect x="3296" y="2225" width="6" height="6"/><rect x="3326" y="2231" width="6" height="6"/></g>
<rect x="3264" y="2023" width="142" height="70" fill="#fff" stroke="#ccc" rx="3"/>
<g font-size="12"><path d="M3274,2038 H3294" stroke="#e8452c" stroke-width="2"/><text x="3299" y="2042">Sol. Infeas. (%)</text><path d="M3274,2057 H3294" stroke="#4ab8d8" stroke-width="2"/><text x="3299" y="2061">Ins. Infeas. (%)</text><path d="M3274,2076 H3294" stroke="#2c3e7a" stroke-width="2" stroke-dasharray="4,3"/><text x="3299" y="2080">Time (s)</text></g>

<!-- (c) -->
<text x="3832" y="1999" text-anchor="middle" font-size="18">(c)</text>
<rect x="3672" y="2009" width="325" height="247" fill="none" stroke="#333" stroke-width="1.5"/>
<g stroke="#ddd" stroke-dasharray="3,3"><path d="M3672,2199 H3997 M3672,2154 H3997 M3672,2110 H3997 M3672,2065 H3997 M3672,2020 H3997 M3806,2009 V2256 M3939,2009 V2256"/></g>
<g text-anchor="end"><text x="3666" y="2248">0</text><text x="3666" y="2204">20</text><text x="3666" y="2159">40</text><text x="3666" y="2115">60</text><text x="3666" y="2070">80</text><text x="3666" y="2025">100</text></g>
<text transform="translate(3632,2132) rotate(-90)" text-anchor="middle" font-size="14" letter-spacing="1">Sol. Infeas. (%)</text>
<text x="3800" y="2274" font-size="12">10<tspan font-size="8" dy="-5">2</tspan></text><text x="3933" y="2274" font-size="12">10<tspan font-size="8" dy="-5">3</tspan></text>
<text x="3834" y="2290" text-anchor="middle" font-size="16">Time (s)</text>
<polyline fill="none" stroke="#0f9a7a" stroke-width="2.5" points="3687,2020 3731,2173 3982,2184"/>
<polyline fill="none" stroke="#2c3e7a" stroke-width="2.5" points="3699,2065 3738,2213 3982,2218"/>
<polyline fill="none" stroke="#4ab8d8" stroke-width="2" points="3686,2169 3694,2192 3699,2202 3711,2213 3724,2223 3736,2230 3748,2235 3765,2239 3782,2242 3797,2243"/>
<polyline fill="none" stroke="#e8452c" stroke-width="2" points="3696,2209 3698,2233 3703,2243 3724,2243"/>
<rect x="3869" y="2015" width="121" height="78" fill="#fff" stroke="#ccc" rx="3"/>
<g font-size="12"><path d="M3876,2030 H3896" stroke="#4ab8d8" stroke-width="2.5"/><text x="3900" y="2034">LMask (SSL)</text><path d="M3876,2048 H3896" stroke="#e8452c" stroke-width="2.5"/><text x="3900" y="2052">LMask (TSL)</text><path d="M3876,2066 H3896" stroke="#0f9a7a" stroke-width="2.5"/><text x="3900" y="2070">PIP</text><path d="M3876,2084 H3896" stroke="#2c3e7a" stroke-width="2.5"/><text x="3900" y="2088">PIP-D</text></g>
</g>

<!-- table group labels -->
<g font-size="11" font-weight="bold" fill="#111" text-anchor="middle">
<text transform="translate(2760,1281) rotate(-90)">Medium</text>
<text transform="translate(2760,1409) rotate(-90)">Hard</text>
<text transform="translate(3412,1275) rotate(-90)">Medium</text>
<text transform="translate(3412,1391) rotate(-90)">Hard</text>
</g>
<g stroke="#555" stroke-width="1"><path d="M2835,1217 V1473 M3079,1217 V1473 M3486,1217 V1450 M3738,1217 V1450"/></g>
</svg>
</body></html>
